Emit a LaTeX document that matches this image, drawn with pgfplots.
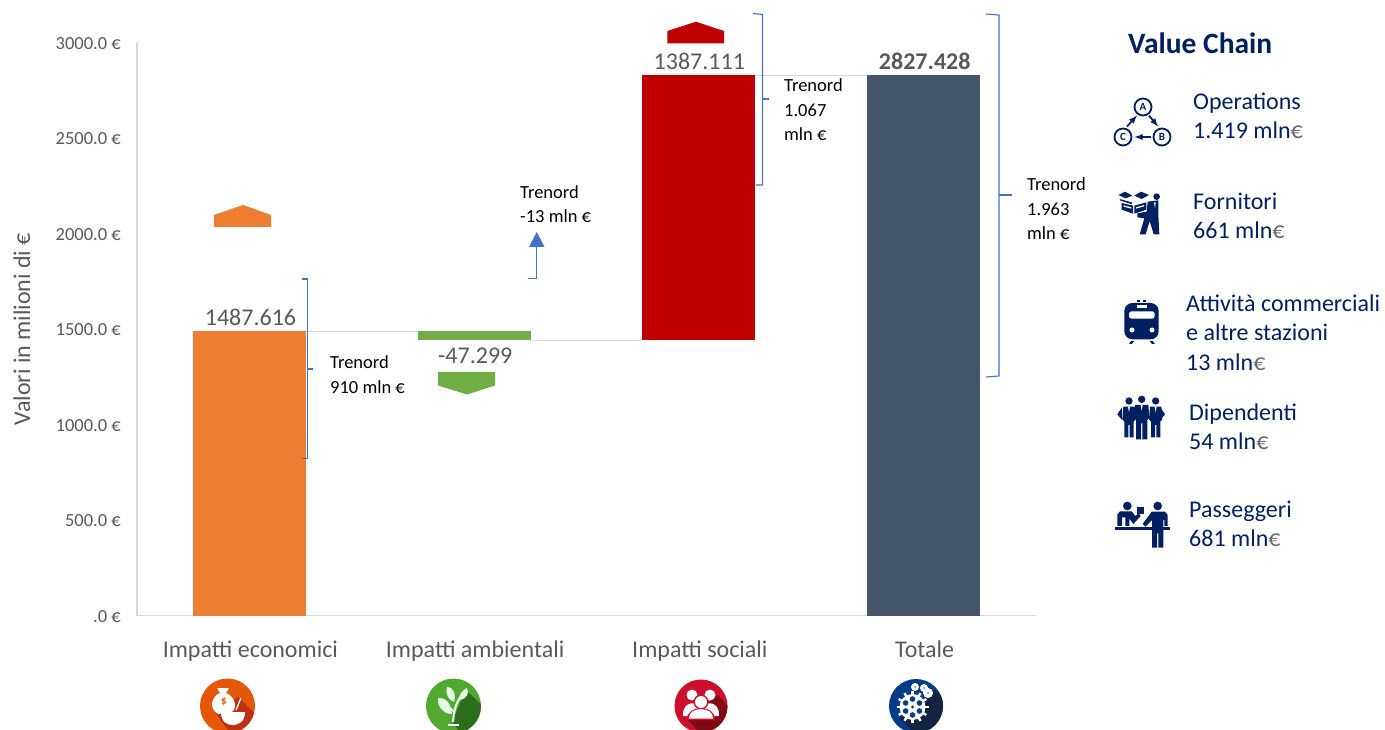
\documentclass[border=0pt]{standalone}
\usepackage{pgfplots}
\pgfplotsset{compat=1.18}
\usepackage{fontspec}
\setmainfont{Carlito}
\definecolor{cOrange}{HTML}{ED7D31}
\definecolor{cGreen}{HTML}{70AD47}
\definecolor{cRed}{HTML}{C00000}
\definecolor{cTot}{HTML}{44546A}
\definecolor{cGray}{HTML}{595959}
\definecolor{cAxis}{HTML}{D9D9D9}
\definecolor{cBlue}{HTML}{4472C4}
\definecolor{cNavy}{HTML}{002060}
\definecolor{cEuro}{HTML}{6B6B6B}
\newcommand{\fs}[1]{\fontsize{#1}{#1}\selectfont}
% text helpers in pixel coordinates
\newcommand{\Tk}[3]{\node[anchor=mid west,inner sep=0pt,text=black,font=\fs{18.5},yshift=-4pt] at (#1,#2) {#3};}
\newcommand{\Tn}[3]{\node[anchor=mid west,inner sep=0pt,text=cNavy,font=\fs{24},yshift=-6pt] at (#1,#2) {#3};}
\newcommand{\E}{\textcolor{cEuro}{€}}
\newcommand{\zs}[2]{\begin{scope}[shift={(#1pt,-#2pt)},x=0.33333pt,y=-0.33333pt]}
\begin{document}
\begin{tikzpicture}
\useasboundingbox (0pt,0pt) rectangle (1385pt,729pt);
% ---- bars
\begin{axis}[
  at={(137pt,113.5pt)},anchor=south west,
  scale only axis,width=899pt,height=573pt,
  xmin=-0.5,xmax=3.5,ymin=0,ymax=3000,
  axis lines=left,axis line style={cAxis,line width=1.5pt,-},
  ybar stacked,bar width=113pt,
  major tick length=0pt,
  xtick={0,1,2,3},
  xticklabels={Impatti economici,Impatti ambientali,Impatti sociali,Totale},
  ytick={0,500,1000,1500,2000,2500,3000},
  yticklabels={.0 €,500.0 €,1000.0 €,1500.0 €,2000.0 €,2500.0 €,3000.0 €},
  yticklabel style={text=cGray,font=\fs{18.5},inner sep=0pt,xshift=-16pt,yshift=-1pt},
  xticklabel style={text=cGray,font=\fs{24},inner sep=0pt,yshift=-25pt,xshift=1pt},
  ylabel={Valori in milioni di €},
  ylabel style={text=cGray,font=\fs{24},inner sep=0pt,at={(axis description cs:0,0.5)},anchor=center,yshift=115pt},
]
\addplot[draw=none,fill=none] coordinates {(0,0)(1,1440.317)(2,1440.317)(3,0)};
\addplot[draw=none,fill=cOrange] coordinates {(0,1487.616)(1,0)(2,0)(3,0)};
\addplot[draw=none,fill=cGreen] coordinates {(0,0)(1,47.299)(2,0)(3,0)};
\addplot[draw=none,fill=cRed] coordinates {(0,0)(1,0)(2,1387.111)(3,0)};
\addplot[draw=none,fill=cTot] coordinates {(0,0)(1,0)(2,0)(3,2827.428)};
\end{axis}
% ---- connectors and value labels
\begin{axis}[
  at={(137pt,113.5pt)},anchor=south west,
  scale only axis,width=899pt,height=573pt,
  xmin=-0.5,xmax=3.5,ymin=0,ymax=3000,hide axis,clip=false,
]
\addplot[cAxis,line width=1.6pt] coordinates {(0.2515,1487.616)(0.7485,1487.616)};
\addplot[cAxis,line width=1.6pt] coordinates {(1.2515,1440.317)(1.7485,1440.317)};
\addplot[cAxis,line width=1.6pt] coordinates {(2.2515,2827.428)(2.7485,2827.428)};
\node[text=cGray,font=\fs{24},inner sep=0pt,anchor=base] at (axis cs:0.005,1520) {1487.616};
\node[text=cGray,font=\fs{24},inner sep=0pt,anchor=base] at (axis cs:1.005,1317) {-47.299};
\node[text=cGray,font=\fs{24},inner sep=0pt,anchor=base] at (axis cs:2.002,2860) {1387.111};
\node[text=cGray,font=\fs{24}\bfseries,inner sep=0pt,anchor=base] at (axis cs:3.005,2860) {2827.428};
\end{axis}
% ---- annotations in pixel coordinates (y downwards)
\begin{scope}[shift={(0pt,729pt)},x=1pt,y=-1pt]
% pentagons
\fill[cOrange] (214,227)--(214,215)--(243,205)--(271,215)--(271,227)--cycle;
\fill[cGreen] (438,372)--(495,372)--(495,385.5)--(467,394.5)--(438,385.5)--cycle;
\fill[cRed] (667.3,43.5)--(667.3,31)--(696,21.7)--(724,31)--(724,43.5)--cycle;
% brackets
\draw[cBlue,line width=1.1pt] (302,279) -- (307.5,279) -- (307.5,458.5) -- (302,458.5);
\draw[cBlue,line width=1.1pt] (307.5,369) -- (313,369);
\draw[cBlue,line width=1.1pt] (753,13.5) -- (762.5,14.5) -- (762.5,185) -- (756,185);
\draw[cBlue,line width=1.1pt] (762.5,99) -- (769,99);
\draw[cBlue,line width=1.1pt] (986,14) -- (999,15) -- (999,376) -- (986,377);
\draw[cBlue,line width=1.1pt] (999,195) -- (1012,195);
% arrow
\draw[cBlue,line width=1.1pt] (527.5,278.5) -- (536.8,278.5) -- (536.8,247);
\fill[cBlue] (536.8,232) -- (544.5,247) -- (529,247) -- cycle;
% annotation text
\Tk{330}{362}{Trenord}
\Tk{330}{387}{910 mln €}
\Tk{520}{192}{Trenord}
\Tk{520}{216}{-13 mln €}
\Tk{784}{85}{Trenord}
\Tk{784}{110}{1.067}
\Tk{784}{134}{mln €}
\Tk{1027}{184}{Trenord}
\Tk{1027}{209}{1.963}
\Tk{1027}{233}{mln €}
% value chain text
\node[anchor=mid west,inner sep=0pt,text=cNavy,font=\fs{29.5}\bfseries,yshift=-7pt] at (1128,44) {Value Chain};
\Tn{1193}{101}{Operations}
\Tn{1193}{130}{1.419 mln\E}
\Tn{1193}{201}{Fornitori}
\Tn{1193}{230}{661 mln\E}
\Tn{1186}{303}{Attività commerciali}
\Tn{1186}{332}{e altre stazioni}
\Tn{1186}{362}{13 mln\E}
\Tn{1189}{412}{Dipendenti}
\Tn{1189}{441}{54 mln\E}
\Tn{1189}{509}{Passeggeri}
\Tn{1189}{538}{681 mln\E}
% ---- round category icons
\begin{scope}
\clip (0,0) rectangle (1385,729);
% orange
\begin{scope}
\fill[color={rgb,255:red,230;green,87;blue,10}] (227.5,706) circle[radius=27.5];
\clip (227.5,706) circle[radius=27.5];
\fill[color={rgb,255:red,190;green,50;blue,20}] (238,697) -- (270,729) -- (235,740) -- (215,712) -- cycle;
\end{scope}
\fill[white] (217,688) -- (229,688) -- (226,693) .. controls (236,697) and (237,708) .. (232,712) -- (218,714) .. controls (208,708) and (212,696) .. (220,693) -- cycle;
\fill[white] (221,712) -- (245,712) .. controls (245,722) and (238,725) .. (233,725) .. controls (227,725) and (221,722) .. (221,712) -- cycle;
\draw[white,line width=1.3pt] (236,710) -- (241,698);
\node[text={rgb,255:red,230;green,87;blue,10},inner sep=0pt,font=\fs{11}\bfseries] at (224,702) {\$};
% green
\begin{scope}
\fill[color={rgb,255:red,80;green,170;blue,50}] (453.5,706) circle[radius=27.5];
\clip (453.5,706) circle[radius=27.5];
\fill[color={rgb,255:red,45;green,110;blue,30}] (466,690) -- (500,722) -- (470,745) -- (452,722) -- cycle;
\end{scope}
\draw[white,line width=2pt] (453,722) .. controls (454,712) and (455,702) .. (464,693);
\draw[white,line width=1.5pt] (454,712) -- (446,703);
\fill[white!90!green] (447,687) .. controls (455,688) and (456,695) .. (454,702) .. controls (448,700) and (445,693) .. (447,687) -- cycle;
\fill[white!90!green] (467,688) .. controls (463,690) and (458,694) .. (460,700) .. controls (466,699) and (470,694) .. (467,688) -- cycle;
\fill[white!90!green] (438,698) .. controls (447,697) and (451,705) .. (452,714) .. controls (444,714) and (437,707) .. (438,698) -- cycle;
\fill[white] (448,724) rectangle (459,725.5);
% red
\begin{scope}
\fill[color={rgb,255:red,205;green,15;blue,45}] (701,706) circle[radius=26.5];
\clip (701,706) circle[radius=26.5];
\fill[color={rgb,255:red,130;green,10;blue,20}] (718,695) -- (740,720) -- (710,745) -- (688,720) -- cycle;
\end{scope}
\foreach \cx/\cy in {692/695,710/695}{\fill[white] (\cx,\cy) circle[radius=5.5];
 \fill[white] (\cx-9,\cy+21) .. controls (\cx-10,\cy+4) and (\cx+10,\cy+4) .. (\cx+9,\cy+21) -- cycle;}
\fill[color={rgb,255:red,205;green,15;blue,45}] (701,702) circle[radius=7.5];
\fill[color={rgb,255:red,205;green,15;blue,45}] (687,720) .. controls (686,704) and (716,704) .. (715,720) -- cycle;
\fill[white] (701,702) circle[radius=6];
\fill[white] (689,718.5) .. controls (688,706) and (714,706) .. (713,718.5) -- cycle;
% blue
\begin{scope}
\fill[color={rgb,255:red,5;green,60;blue,135}] (916,706) circle[radius=27];
\clip (916,706) circle[radius=27];
\fill[color={rgb,255:red,20;green,35;blue,65}] (935,690) -- (960,715) -- (925,745) -- (900,718) -- cycle;
\end{scope}
\fill[white] (912.5,707) circle[radius=13];
\foreach \a in {0,30,...,330}{\fill[white] (912.5,707) ++(\a:12) ++(\a+90:1.2) -- ++(\a:4) -- ++(\a-90:2.4) -- ++(\a:-4) -- cycle;}
\foreach \a in {0,60,...,300}{\fill[color={rgb,255:red,5;green,60;blue,135}] (912.5,707) ++(\a+30:8) circle[radius=2.8];}
\fill[color={rgb,255:red,5;green,60;blue,135}] (912.5,707) circle[radius=1.6];
\foreach \cx/\cy/\r in {915/687/4,924/688/4,928/693/5}{\fill[white] (\cx,\cy) circle[radius=\r];\fill[color={rgb,255:red,90;green,125;blue,175}] (\cx,\cy) circle[radius=1];}
\end{scope}
% ---- value-chain icons
% ABC cycle
\begin{scope}[cNavy]
\draw[cNavy,line width=1.8pt] (1143,107) circle[radius=8.5] (1123,137) circle[radius=8.5] (1162,137) circle[radius=8.5];
\node[text=cNavy,inner sep=0pt,font=\fs{11}\bfseries] at (1143,107) {A};
\node[text=cNavy,inner sep=0pt,font=\fs{11}\bfseries] at (1123,137) {C};
\node[text=cNavy,inner sep=0pt,font=\fs{11}\bfseries] at (1162,137) {B};
\draw[cNavy,line width=1.8pt,-latex] (1127,126.5) -- (1137,115.5);
\draw[cNavy,line width=1.8pt,-latex] (1149,115.5) -- (1158,126.5);
\draw[cNavy,line width=1.8pt,-latex] (1151,137) -- (1134.5,137);
\end{scope}
% box man (pixels of zoom 5: 3x from 1105,185)
\zs{1105}{185}
\fill[cNavy] (155,35) circle[radius=10];
\fill[cNavy] (128,50) -- (160,46) -- (160,90) -- (163,148) -- (146,148) -- (134,108) -- (122,148) -- (104,148) -- (118,100) -- (97,97) -- (97,85) -- (125,80) -- cycle;
\fill[white] (147,52) -- (152,52) -- (150,70) -- cycle;
\fill[cNavy] (50,54) -- (84,62) -- (84,86) -- (50,74) -- cycle;
\fill[cNavy] (88,62) -- (124,52) -- (124,74) -- (88,86) -- cycle;
\fill[white] (56,61) -- (79,67) -- (79,71) -- (56,65) -- cycle;
\fill[white] (93,67) -- (117,60) -- (117,64) -- (93,71) -- cycle;
\fill[cNavy] (40,30) -- (60,20) -- (82,32) -- (62,40) -- cycle;
\fill[cNavy] (88,32) -- (108,20) -- (132,30) -- (110,42) -- cycle;
\fill[cNavy] (44,42) -- (80,52) -- (82,58) -- (46,47) -- cycle;
\end{scope}
% train (zoom 6)
\zs{1105}{295}
\fill[cNavy] (96,16) rectangle (106,21);
\fill[cNavy] (114,16) rectangle (124,21);
\fill[cNavy,rounded corners=8pt] (58,24) rectangle (161,133);
\fill[white] (96,31) rectangle (126,39);
\fill[white,rounded corners=2.5pt] (72,49) rectangle (149,71);
\fill[white] (81,105) circle[radius=7.5];
\fill[white] (141,105) circle[radius=7.5];
\fill[cNavy] (72,147) -- (78,138) -- (88,138) -- (80,147) -- cycle;
\fill[cNavy] (141,147) -- (134,138) -- (143,138) -- (150,147) -- cycle;
\end{scope}
% three employees (zoom 2 coordinates)
\zs{1100}{320}
\foreach \cx/\cy/\w/\b in {87/243/14/352,167/243/14/352,125/238/17/358}{
 \fill[cNavy] (\cx,\cy) circle[radius=11];
 \fill[cNavy] (\cx-\w-3,\cy+17) -- (\cx+\w+3,\cy+17) -- (\cx+\w+6,\cy+55) -- (\cx+\w,\cy+62) -- (\cx+\w,\b) -- (\cx+2,\b) -- (\cx+2,\cy+72) -- (\cx-2,\cy+72) -- (\cx-2,\b) -- (\cx-\w,\b) -- (\cx-\w,\cy+62) -- (\cx-\w-6,\cy+55) -- cycle;
 \fill[white] (\cx-3,\cy+17) -- (\cx+3,\cy+17) -- (\cx,\cy+34) -- cycle;
}
\fill[cNavy] (52,283) -- (66,262) -- (66,300) -- cycle;
\fill[cNavy] (195,283) -- (181,262) -- (181,300) -- cycle;
\end{scope}
% counter scene (zoom 2 coordinates)
\zs{1100}{320}
\fill[cNavy] (82,558) circle[radius=13];
\fill[cNavy] (173,558) circle[radius=13];
\fill[cNavy] (44,620) rectangle (209,629);
\fill[cNavy] (52,618) -- (52,584) -- (60,574) -- (95,574) -- (106,588) -- (116,580) -- (122,588) -- (100,612) -- (88,596) -- (88,618) -- (76,618) -- (76,592) -- (66,592) -- (66,618) -- cycle;
\fill[cNavy] (112,560) rectangle (133,582);
\fill[cNavy] (128,612) -- (155,575) -- (195,575) -- (203,585) -- (203,618) -- (193,618) -- (193,600) -- (190,600) -- (190,683) -- (175,683) -- (175,640) -- (171,640) -- (171,683) -- (156,683) -- (156,600) -- (136,620) -- cycle;
\end{scope}
\end{scope}
\end{tikzpicture}
\end{document}
